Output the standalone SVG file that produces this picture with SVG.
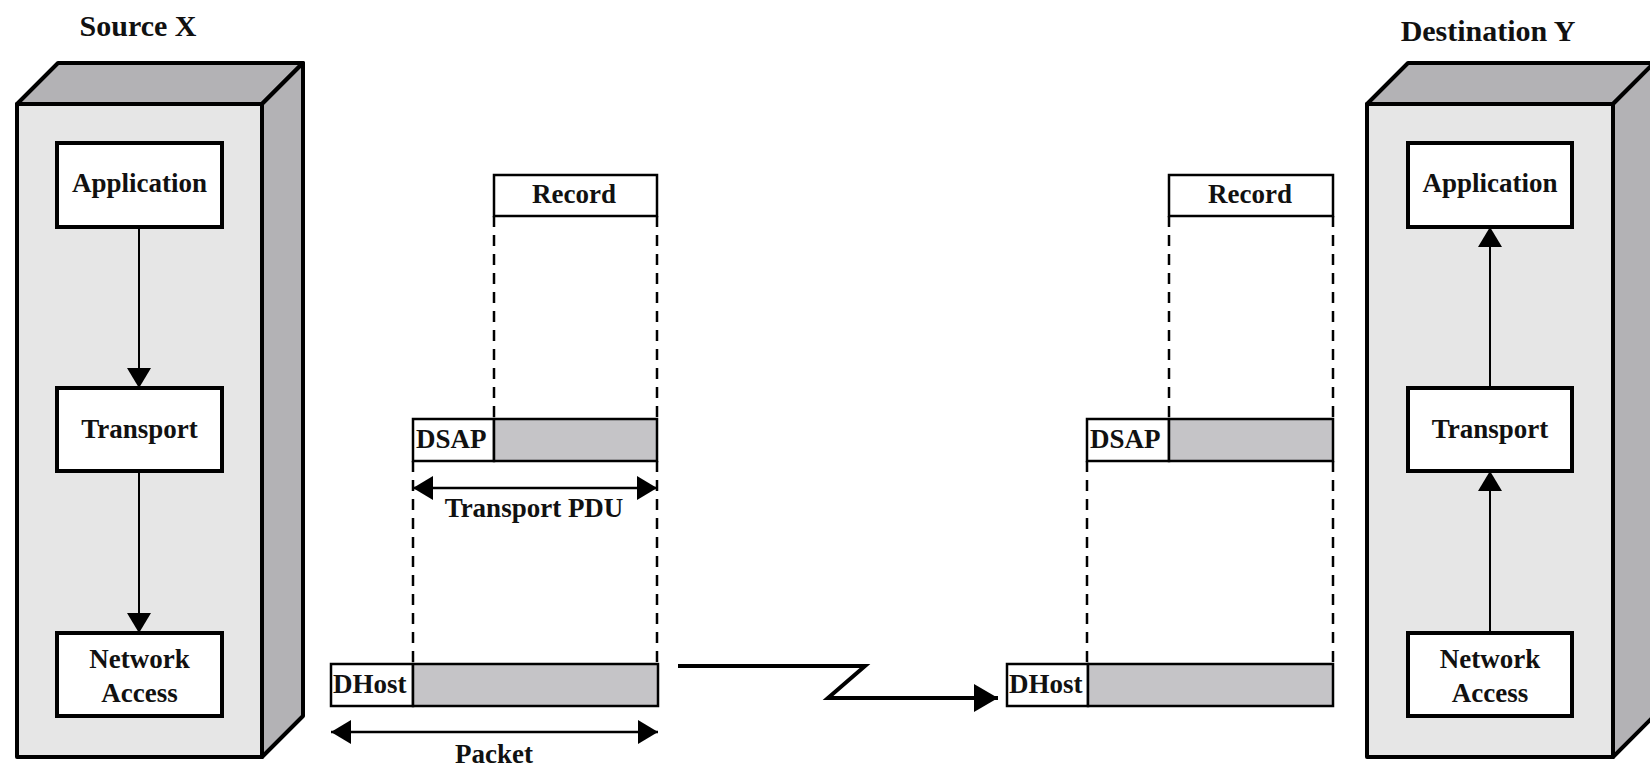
<svg xmlns="http://www.w3.org/2000/svg" width="1650" height="769" viewBox="0 0 1650 769">
<style>
text{font-family:"Liberation Serif","Times New Roman",serif;font-weight:bold;fill:#111}
.t{font-size:30px;text-anchor:middle}
.l{font-size:27px;text-anchor:middle}
.s{font-size:27px}
.front{fill:#e6e6e6;stroke:#000;stroke-width:4;stroke-linejoin:round}
.shade{fill:#b3b2b5;stroke:#000;stroke-width:4;stroke-linejoin:round}
.layer{fill:#fff;stroke:#000;stroke-width:4}
.cell{fill:#fff;stroke:#000;stroke-width:2.5}
.grey{fill:#c5c4c7;stroke:#000;stroke-width:2.5}
.dash{stroke:#000;stroke-width:2.5;stroke-dasharray:11 8;fill:none}
.conn{stroke:#000;stroke-width:2;fill:none}
.dbl{stroke:#000;stroke-width:2.5;fill:none;marker-start:url(#ah);marker-end:url(#ah)}
.zig{stroke:#000;stroke-width:4;fill:none;stroke-linejoin:miter;marker-end:url(#bh)}
</style>
<defs>
<marker id="ah" viewBox="0 0 20 24" refX="20" refY="12" markerWidth="20" markerHeight="24" markerUnits="userSpaceOnUse" orient="auto-start-reverse"><path d="M0,0 L20,12 L0,24 z" fill="#000"/></marker>
<marker id="bh" viewBox="0 0 24 28" refX="24" refY="14" markerWidth="24" markerHeight="28" markerUnits="userSpaceOnUse" orient="auto"><path d="M0,0 L24,14 L0,28 z" fill="#000"/></marker>
</defs>
<rect width="1650" height="769" fill="#fff"/>

<g id="source-x">
<text class="t" x="138" y="36">Source X</text>
<polygon class="shade" points="17,104 58,63 303,63 262,104"/>
<polygon class="shade" points="262,104 303,63 303,716 262,757"/>
<rect class="front" x="17" y="104" width="245" height="653"/>
</g>
<g id="src-application"><rect class="layer" x="57" y="143" width="165" height="84"/><text class="l" x="139.5" y="192">Application</text></g>
<g id="src-transport"><rect class="layer" x="57" y="388" width="165" height="83"/><text class="l" x="139.5" y="438">Transport</text></g>
<g id="src-network"><rect class="layer" x="57" y="633" width="165" height="83"/><text class="l" x="139.5" y="668">Network</text><text class="l" x="139.5" y="702">Access</text></g>

<g id="destination-y">
<text class="t" x="1488" y="41">Destination Y</text>
<polygon class="shade" points="1367,104 1408,63 1654,63 1613,104"/>
<polygon class="shade" points="1613,104 1654,63 1654,716 1613,757"/>
<rect class="front" x="1367" y="104" width="246" height="653"/>
</g>
<g id="dst-application"><rect class="layer" x="1408" y="143" width="164" height="84"/><text class="l" x="1490" y="192">Application</text></g>
<g id="dst-transport"><rect class="layer" x="1408" y="388" width="164" height="83"/><text class="l" x="1490" y="438">Transport</text></g>
<g id="dst-network"><rect class="layer" x="1408" y="633" width="164" height="83"/><text class="l" x="1490" y="668">Network</text><text class="l" x="1490" y="702">Access</text></g>

<g id="src-record"><rect class="cell" x="494" y="175" width="163" height="41"/><text class="l" x="574" y="203">Record</text></g>
<g id="src-tpdu"><rect class="cell" x="413" y="419" width="81" height="42"/><rect class="grey" x="494" y="419" width="163" height="42"/><text class="s" x="416" y="448">DSAP</text></g>
<g id="src-packet"><rect class="cell" x="331" y="664" width="82" height="42"/><rect class="grey" x="413" y="664" width="245" height="42"/><text class="s" x="333" y="693">DHost</text></g>
<text class="l" x="534" y="517">Transport PDU</text>
<text class="l" x="494" y="763">Packet</text>

<g id="dst-record"><rect class="cell" x="1169" y="175" width="164" height="41"/><text class="l" x="1250" y="203">Record</text></g>
<g id="dst-tpdu"><rect class="cell" x="1087" y="419" width="82" height="42"/><rect class="grey" x="1169" y="419" width="164" height="42"/><text class="s" x="1090" y="448">DSAP</text></g>
<g id="dst-packet"><rect class="cell" x="1007" y="664" width="81" height="42"/><rect class="grey" x="1088" y="664" width="245" height="42"/><text class="s" x="1009" y="693">DHost</text></g>

<g id="connectors">
<line class="conn" x1="139" y1="227" x2="139" y2="388" marker-end="url(#ah)"/>
<line class="conn" x1="139" y1="471" x2="139" y2="633" marker-end="url(#ah)"/>
<line class="conn" x1="1490" y1="388" x2="1490" y2="227" marker-end="url(#ah)"/>
<line class="conn" x1="1490" y1="633" x2="1490" y2="471" marker-end="url(#ah)"/>
<path class="dash" d="M494,216 V419 M657,216 V419 M413,461 V664 M657,461 V664"/>
<path class="dash" d="M1169,216 V419 M1333,216 V419 M1087,461 V664 M1333,461 V664"/>
<line class="dbl" x1="413" y1="488" x2="657" y2="488"/>
<line class="dbl" x1="331" y1="732" x2="658" y2="732"/>
<path class="zig" d="M678,666 H865 L828,698 H998"/>
</g>
</svg>
